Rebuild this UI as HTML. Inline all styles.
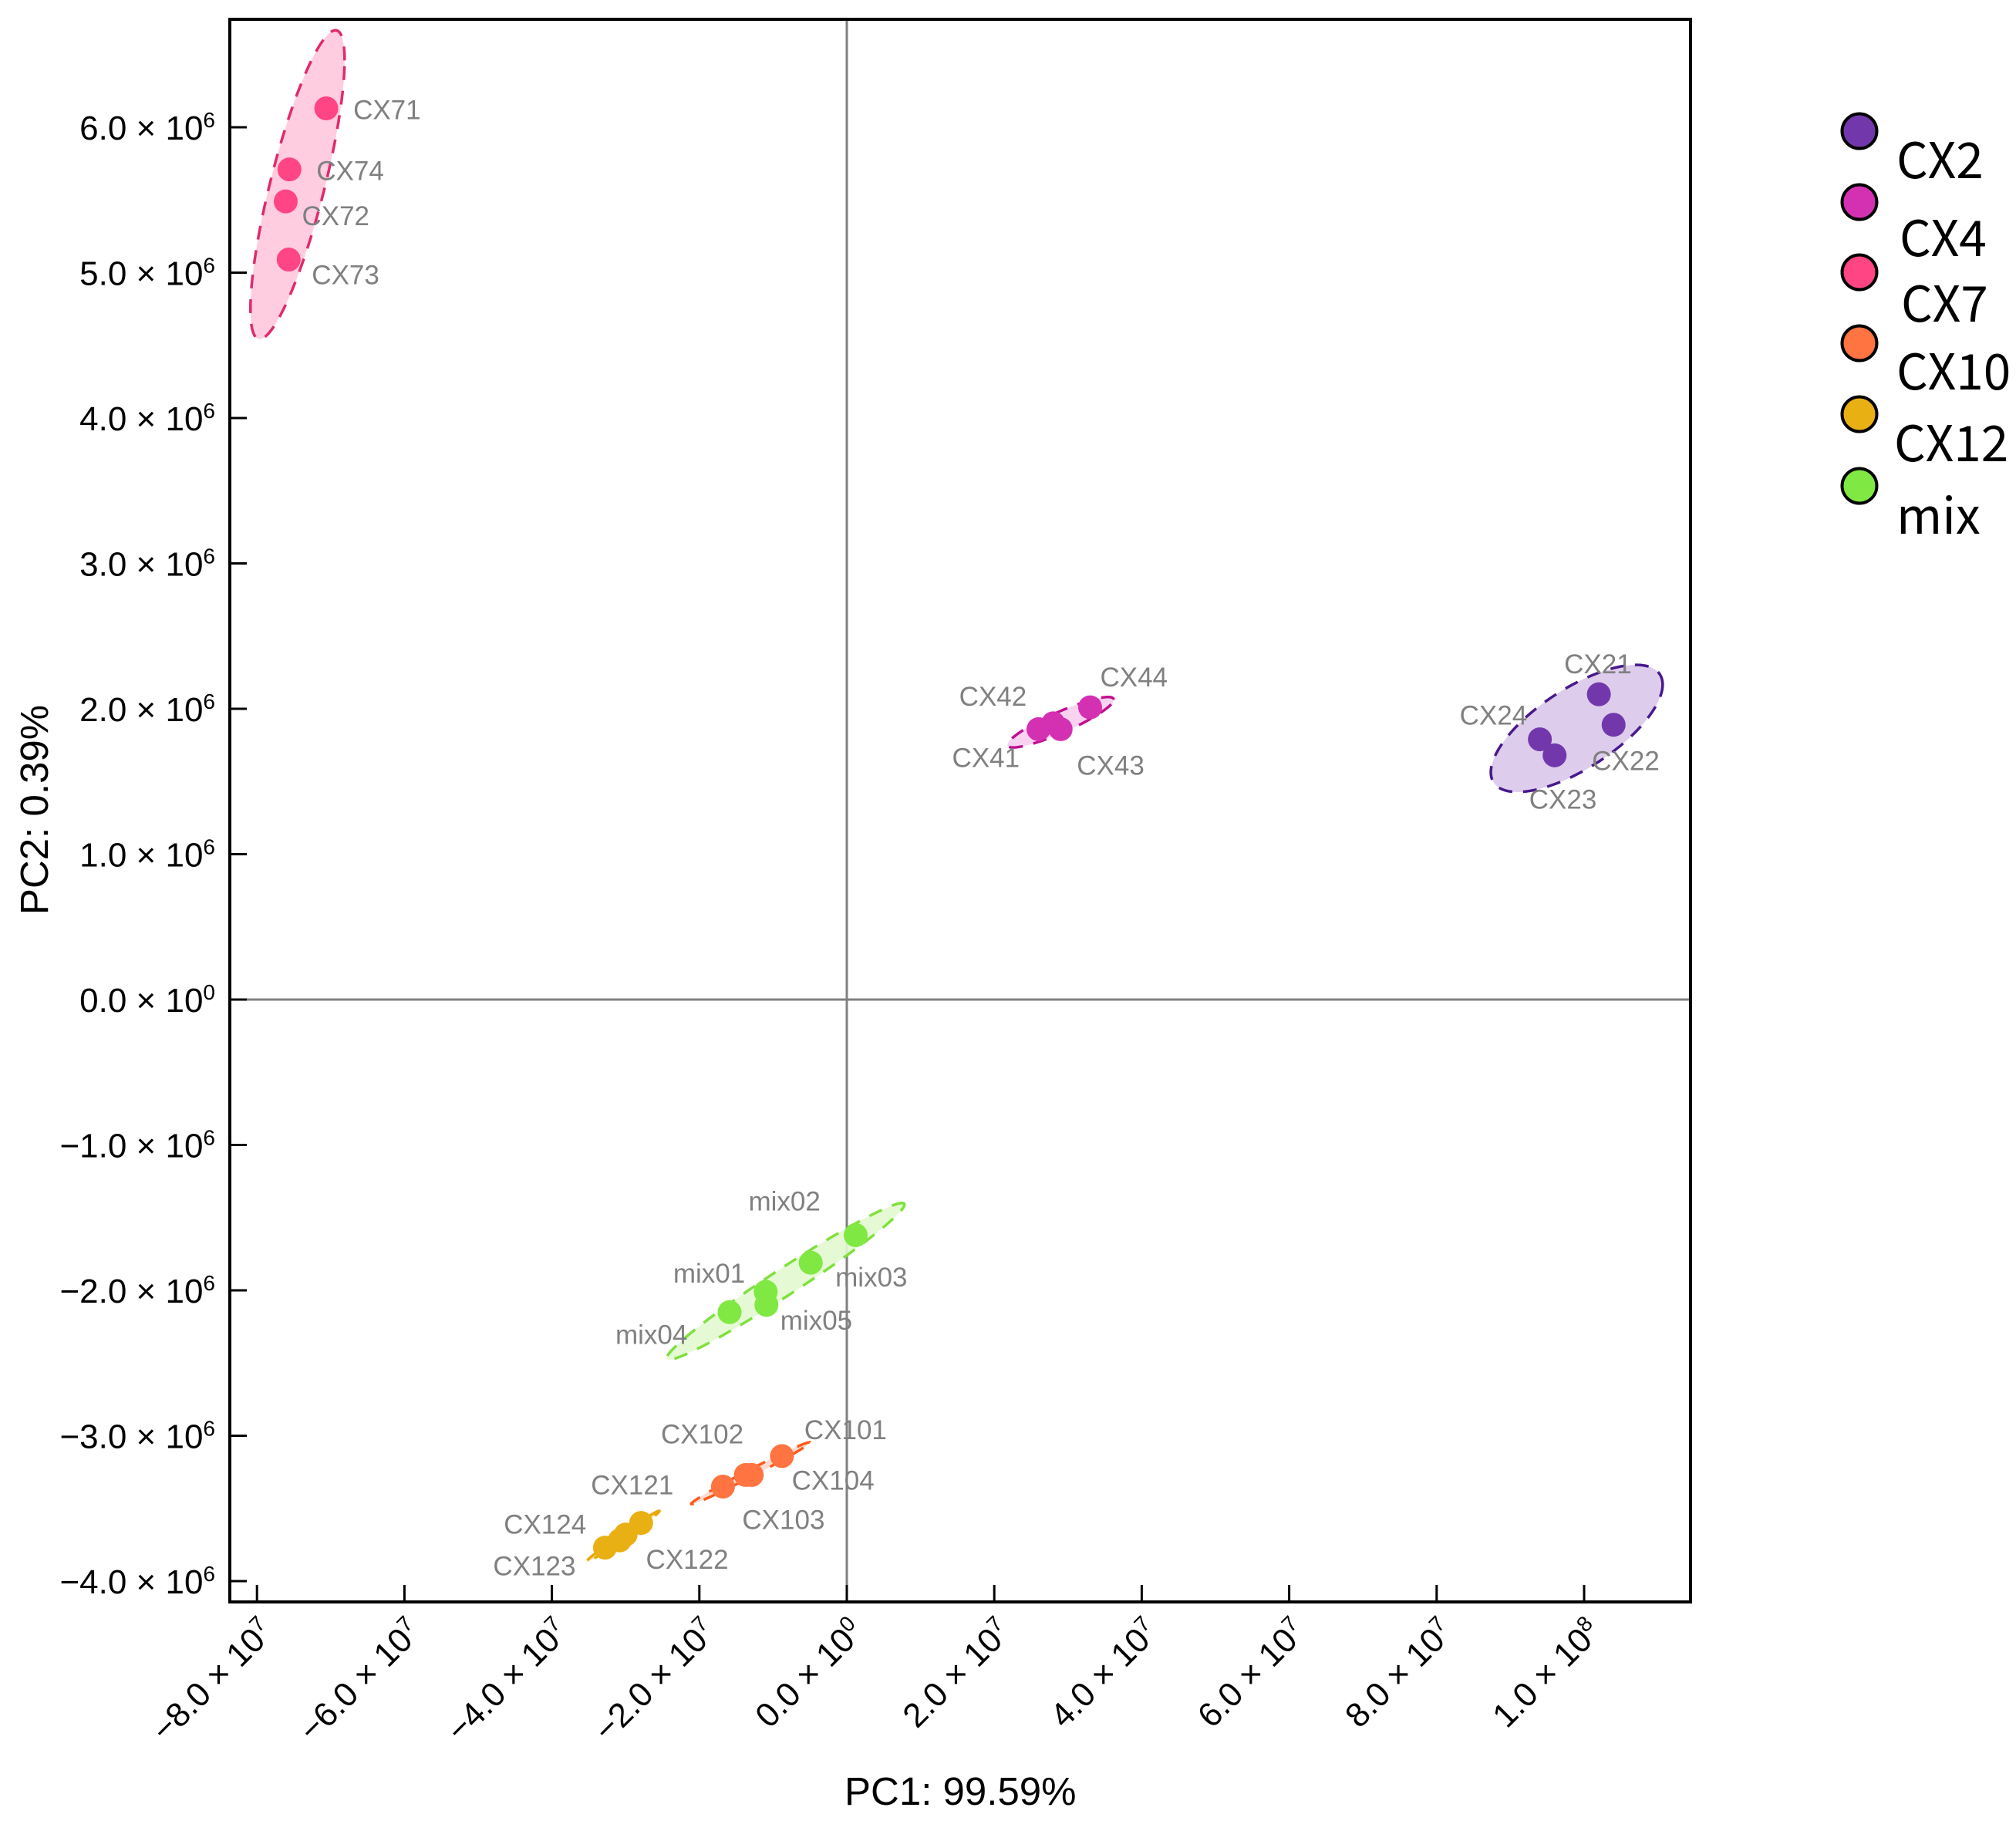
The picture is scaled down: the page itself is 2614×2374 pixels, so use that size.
<!DOCTYPE html>
<html lang="en">
<head>
<meta charset="utf-8">
<title>PCA score plot</title>
<style>
html,body{margin:0;padding:0;background:#fff;}
body{width:2614px;height:2374px;overflow:hidden;}
svg{display:block;}
text{font-family:"Liberation Sans",sans-serif;}
.tick{font-size:44px;fill:#000;}
.sup{font-size:28px;}
.title{font-size:51px;fill:#000;}
.pt-label{font-size:35px;fill:#808080;}
.legend-text{font-family:"Noto Sans CJK SC","Liberation Sans",sans-serif;font-size:64px;fill:#000;}
</style>
</head>
<body>
<svg id="chart" xmlns="http://www.w3.org/2000/svg" width="2614" height="2374" viewBox="0 0 2614 2374">
  <rect x="0" y="0" width="2614" height="2374" fill="#fff"/>
  <g id="zero-lines"></g>
  <g id="ellipses"></g>
  <g id="points"></g>
  <g id="labels"></g>
  <g id="axes"></g>
  <text class="title" x="1095" y="2340">PC1: 99.59%</text>
  <text class="title" transform="translate(62,1050) rotate(-90)" text-anchor="middle">PC2: 0.39%</text>
  <g id="legend"></g>
</svg>
<script>
// Tick data
const xTickValues = [-8e7, -6e7, -4e7, -2e7, 0, 2e7, 4e7, 6e7, 8e7, 1e8];
const xTickMantissas = ["−8.0", "−6.0", "−4.0", "−2.0", "0.0", "2.0", "4.0", "6.0", "8.0", "1.0"];
const xTickExponents = ["7", "7", "7", "7", "0", "7", "7", "7", "7", "8"];
const yTickValues = [6e6, 5e6, 4e6, 3e6, 2e6, 1e6, 0, -1e6, -2e6, -3e6, -4e6];
const yTickMantissas = ["6.0", "5.0", "4.0", "3.0", "2.0", "1.0", "0.0", "−1.0", "−2.0", "−3.0", "−4.0"];
const yTickExponents = ["6", "6", "6", "6", "6", "6", "0", "6", "6", "6", "6"];

// Groups
const groupNames = ["CX2", "CX4", "CX7", "CX10", "CX12", "mix"];

// Series values: sample names, PC1, PC2 per group
const cx2Samples = ["CX21", "CX22", "CX23", "CX24"];
const cx2Pc1 = [1.020e8, 1.040e8, 9.60e7, 9.40e7];
const cx2Pc2 = [2.10e6, 1.89e6, 1.68e6, 1.79e6];

const cx4Samples = ["CX41", "CX42", "CX43", "CX44"];
const cx4Pc1 = [2.60e7, 2.80e7, 2.90e7, 3.30e7];
const cx4Pc2 = [1.86e6, 1.90e6, 1.86e6, 2.01e6];

const cx7Samples = ["CX71", "CX72", "CX73", "CX74"];
const cx7Pc1 = [-7.06e7, -7.61e7, -7.57e7, -7.56e7];
const cx7Pc2 = [6.13e6, 5.49e6, 5.09e6, 5.71e6];

const cx10Samples = ["CX101", "CX102", "CX103", "CX104"];
const cx10Pc1 = [-0.88e7, -1.37e7, -1.68e7, -1.29e7];
const cx10Pc2 = [-3.14e6, -3.27e6, -3.35e6, -3.27e6];

const cx12Samples = ["CX121", "CX122", "CX123", "CX124"];
const cx12Pc1 = [-2.79e7, -3.08e7, -3.28e7, -3.00e7];
const cx12Pc2 = [-3.60e6, -3.72e6, -3.77e6, -3.68e6];

const mixSamples = ["mix01", "mix02", "mix03", "mix04", "mix05"];
const mixPc1 = [-1.10e7, 0.12e7, -0.49e7, -1.59e7, -1.09e7];
const mixPc2 = [-2.01e6, -1.62e6, -1.81e6, -2.15e6, -2.10e6];

const allSamples = [cx2Samples, cx4Samples, cx7Samples, cx10Samples, cx12Samples, mixSamples];
const allPc1 = [cx2Pc1, cx4Pc1, cx7Pc1, cx10Pc1, cx12Pc1, mixPc1];
const allPc2 = [cx2Pc2, cx4Pc2, cx7Pc2, cx10Pc2, cx12Pc2, mixPc2];

// Styling
const pointColors = ["#7238ab", "#d331b2", "#ff4583", "#ff7440", "#e9b013", "#80e842"];
const ellipseFills = ["#d9c7ea", "#f9cdf0", "#ffc8db", "#fdd8ca", "#f8e4a8", "#e2facf"];
const ellipseStrokes = ["#47198a", "#c0108f", "#e02a6c", "#ff5a1e", "#e8a800", "#80e03e"];

// Label layout, in px relative to the point
const labelShift = {
  CX21:[-45,-27], CX22:[-28,59], CX23:[-33,69], CX24:[-104,-19],
  CX41:[-112,49], CX42:[-122,-23], CX43:[21,59], CX44:[13,-27],
  CX71:[35,14], CX72:[21,31], CX73:[30,32], CX74:[35,14],
  CX101:[29,-22], CX102:[-110,-41], CX103:[25,55], CX104:[52,19],
  CX121:[-65,-37], CX122:[34,37], CX123:[-145,36], CX124:[-158,-1],
  mix01:[-120,-12], mix02:[-139,-32], mix03:[32,31], mix04:[-148,41], mix05:[18,32]
};

// Axis functions
const plotLeft = 298, plotRight = 2192, plotTop = 25, plotBottom = 2077;
const xZero = 1098, xPerUnit = 191.2 / 2e7;
const yZero = 1296, yPerUnit = 188.5 / 1e6;
function xAxis(v) { return xZero + v * xPerUnit; }
function yAxis(v) { return yZero - v * yPerUnit; }

const NS = "http://www.w3.org/2000/svg";
function make(tag, parent) {
  const el = document.createElementNS(NS, tag);
  parent.appendChild(el);
  return el;
}
function slug(s) { return s.toLowerCase().replace(/\s+/g, "-"); }

function addTickText(el, mantissa, exponent) {
  const a = document.createElementNS(NS, "tspan");
  a.textContent = mantissa + " × 10";
  el.appendChild(a);
  const b = document.createElementNS(NS, "tspan");
  b.setAttribute("class", "sup");
  b.setAttribute("dy", "-16");
  b.textContent = exponent;
  el.appendChild(b);
}

// Zero lines
const zeroG = document.getElementById("zero-lines");
const vLine = make("line", zeroG);


vLine.setAttribute("x1", xAxis(0)); vLine.setAttribute("x2", xAxis(0));
vLine.setAttribute("y1", plotTop); vLine.setAttribute("y2", plotBottom);
vLine.setAttribute("stroke", "#808080"); vLine.setAttribute("stroke-width", "3");
const hLine = make("line", zeroG);


hLine.setAttribute("x1", plotLeft); hLine.setAttribute("x2", plotRight);
hLine.setAttribute("y1", yAxis(0)); hLine.setAttribute("y2", yAxis(0));
hLine.setAttribute("stroke", "#808080"); hLine.setAttribute("stroke-width", "3");

// Ellipses: 95% normal ellipse computed from each group's points
const chi95 = Math.sqrt(5.991);
function mean(a) { return a.reduce((s, v) => s + v, 0) / a.length; }
function ellipsePath(xs, ys) {
  const mx = mean(xs), my = mean(ys), n = xs.length;
  let sxx = 0, syy = 0, sxy = 0;
  xs.forEach((x, i) => {
    sxx += (x - mx) * (x - mx);
    syy += (ys[i] - my) * (ys[i] - my);
    sxy += (x - mx) * (ys[i] - my);
  });
  sxx /= n - 1; syy /= n - 1; sxy /= n - 1;
  const l11 = Math.sqrt(sxx), l21 = sxy / l11, l22 = Math.sqrt(Math.max(syy - l21 * l21, 0));
  let d = "";
  for (let i = 0; i < 120; i++) {
    const t = i / 120 * 2 * Math.PI;
    const u = chi95 * Math.cos(t), w = chi95 * Math.sin(t);
    const px = xAxis(mx + l11 * u), py = yAxis(my + l21 * u + l22 * w);
    d += (i ? "L" : "M") + px.toFixed(2) + " " + py.toFixed(2);
  }
  return d + "Z";
}
const ellipseG = document.getElementById("ellipses");
groupNames.forEach((g, gi) => {
  const p = make("path", ellipseG);
  
  
  p.setAttribute("d", ellipsePath(allPc1[gi], allPc2[gi]));
  p.setAttribute("fill", ellipseFills[gi]);
  p.setAttribute("fill-opacity", "0.9");
  p.setAttribute("stroke", ellipseStrokes[gi]);
  p.setAttribute("stroke-width", "3.5");
  p.setAttribute("stroke-dasharray", "18 14");
});

// Points and labels
const pointG = document.getElementById("points");
const labelG = document.getElementById("labels");
groupNames.forEach((g, gi) => {
  allSamples[gi].forEach((name, i) => {
    const cx = xAxis(allPc1[gi][i]), cy = yAxis(allPc2[gi][i]);
    const c = make("circle", pointG);
    
    
    c.setAttribute("cx", cx);
    c.setAttribute("cy", cy);
    c.setAttribute("r", "15.5");
    c.setAttribute("fill", pointColors[gi]);
    const shift = labelShift[name];
    const t = make("text", labelG);
    
    
    t.setAttribute("class", "pt-label");
    t.setAttribute("x", cx + shift[0]);
    t.setAttribute("y", cy + shift[1]);
    t.textContent = name;
  });
});

// Axes
const axesG = document.getElementById("axes");
const frame = make("rect", axesG);


frame.setAttribute("x", plotLeft);
frame.setAttribute("y", plotTop);
frame.setAttribute("width", plotRight - plotLeft);
frame.setAttribute("height", plotBottom - plotTop);
frame.setAttribute("fill", "none");
frame.setAttribute("stroke", "#000");
frame.setAttribute("stroke-width", "4");

xTickValues.forEach((v, i) => {
  const x = xAxis(v);
  const tk = make("line", axesG);
  
  
  tk.setAttribute("x1", x); tk.setAttribute("x2", x);
  tk.setAttribute("y1", plotBottom - 22); tk.setAttribute("y2", plotBottom);
  tk.setAttribute("stroke", "#000"); tk.setAttribute("stroke-width", "3");
  const t = make("text", axesG);
  
  
  t.setAttribute("class", "tick");
  t.setAttribute("text-anchor", "end");
  t.setAttribute("transform", "translate(" + (x + 24) + ",2118) rotate(-45)");
  addTickText(t, xTickMantissas[i], xTickExponents[i]);
});

yTickValues.forEach((v, i) => {
  const y = yAxis(v);
  const tk = make("line", axesG);
  
  
  tk.setAttribute("x1", plotLeft); tk.setAttribute("x2", plotLeft + 22);
  tk.setAttribute("y1", y); tk.setAttribute("y2", y);
  tk.setAttribute("stroke", "#000"); tk.setAttribute("stroke-width", "3");
  const t = make("text", axesG);
  
  
  t.setAttribute("class", "tick");
  t.setAttribute("text-anchor", "end");
  t.setAttribute("x", "279");
  t.setAttribute("y", y + 16);
  addTickText(t, yTickMantissas[i], yTickExponents[i]);
});

// Legend
const legendG = document.getElementById("legend");
const legendLayout = {
  CX2:[170,2459,231], CX4:[262,2463,332], CX7:[353,2465,417],
  CX10:[445,2459,505], CX12:[537,2456,598], mix:[630,2459,692]
};
groupNames.forEach((g, gi) => {
  const lay = legendLayout[g];
  const c = make("circle", legendG);
  
  
  c.setAttribute("cx", "2411");
  c.setAttribute("cy", lay[0]);
  c.setAttribute("r", "22.5");
  c.setAttribute("fill", pointColors[gi]);
  c.setAttribute("stroke", "#000");
  c.setAttribute("stroke-width", "4");
  const t = make("text", legendG);
  
  
  t.setAttribute("class", "legend-text");
  t.setAttribute("x", lay[1]);
  t.setAttribute("y", lay[2]);
  t.textContent = g;
});
</script>
</body>
</html>
